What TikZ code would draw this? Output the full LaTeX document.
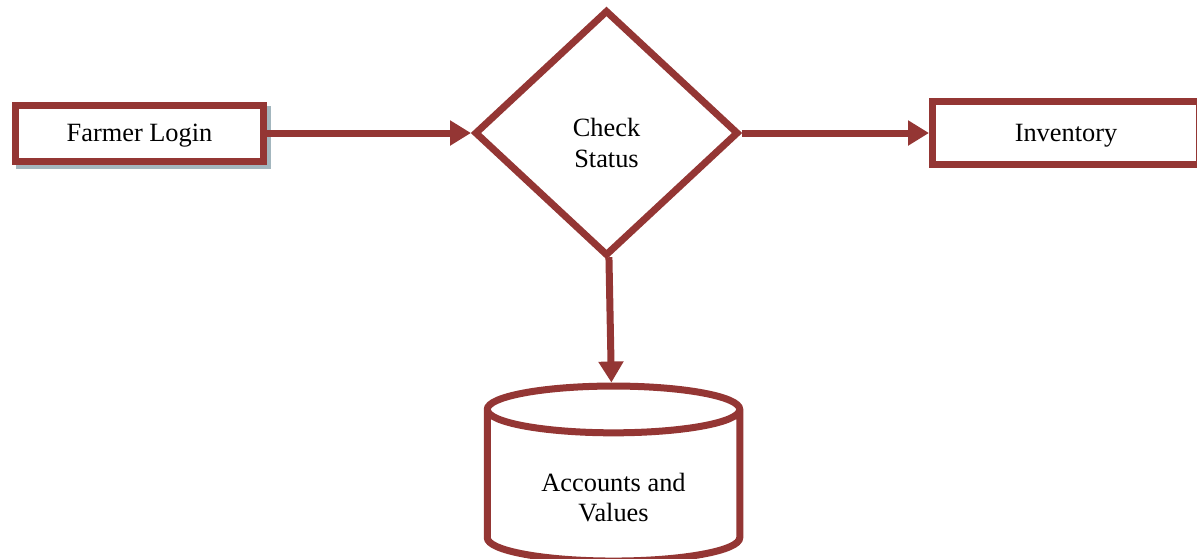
\documentclass[tikz,border=0pt]{standalone}
\usepackage{fontspec}
\setmainfont{Liberation Serif}
\usetikzlibrary{positioning}
\usetikzlibrary{arrows.meta,shapes.geometric,shadows}
\definecolor{flowred}{HTML}{943634}
\definecolor{shadegray}{HTML}{A3B6BE}
\tikzset{
    flow/.style={line width=0.14cm,font=\fontsize{15}{17.5}\selectfont},
    link/.style={-{Triangle[length=0.42cm,width=0.48cm]},color=flowred},
    procbox/.style={rectangle,draw=flowred,fill=white,inner sep=0pt,text depth=0pt,
                     minimum width=4.96cm,minimum height=1.12cm},
    decision/.style={diamond,draw=flowred,fill=white,inner sep=0pt,
                     minimum width=5.28cm,minimum height=4.92cm},
    store/.style={cylinder,shape border rotate=90,aspect=0.3,draw=flowred,fill=white,
                     align=center,minimum width=5.05cm,minimum height=3.5cm},
    }
\begin{document}
\begin{tikzpicture}[flow]
            \useasboundingbox (0,0) rectangle (23.94,-11.16);
            \node[procbox, copy shadow={shadow xshift=0.08cm, shadow yshift=-0.08cm,
                  draw=shadegray, fill=shadegray}] (login) at (2.79,-2.66) {Farmer Login};
            \node[decision] (check) [right of=login, node distance=9.34cm,
                  label={[name=checktext, align=center, yshift=-0.2cm]center:Check\\Status}] {};
            \node[procbox] (inv) [right of=check, node distance=9.19cm,
                  minimum width=5.34cm, minimum height=1.26cm] {Inventory};
            \node[store] (accts) [below of=check, node distance=7.15cm, xshift=0.14cm]
                  {\rule{0pt}{18.5pt}Accounts and\\Values};

            \path[link] (login) edge[] (check);
            \path[link] (check) edge[] (inv);
            \path[link] (check) edge[] (accts);
        \end{tikzpicture}
\end{document}
